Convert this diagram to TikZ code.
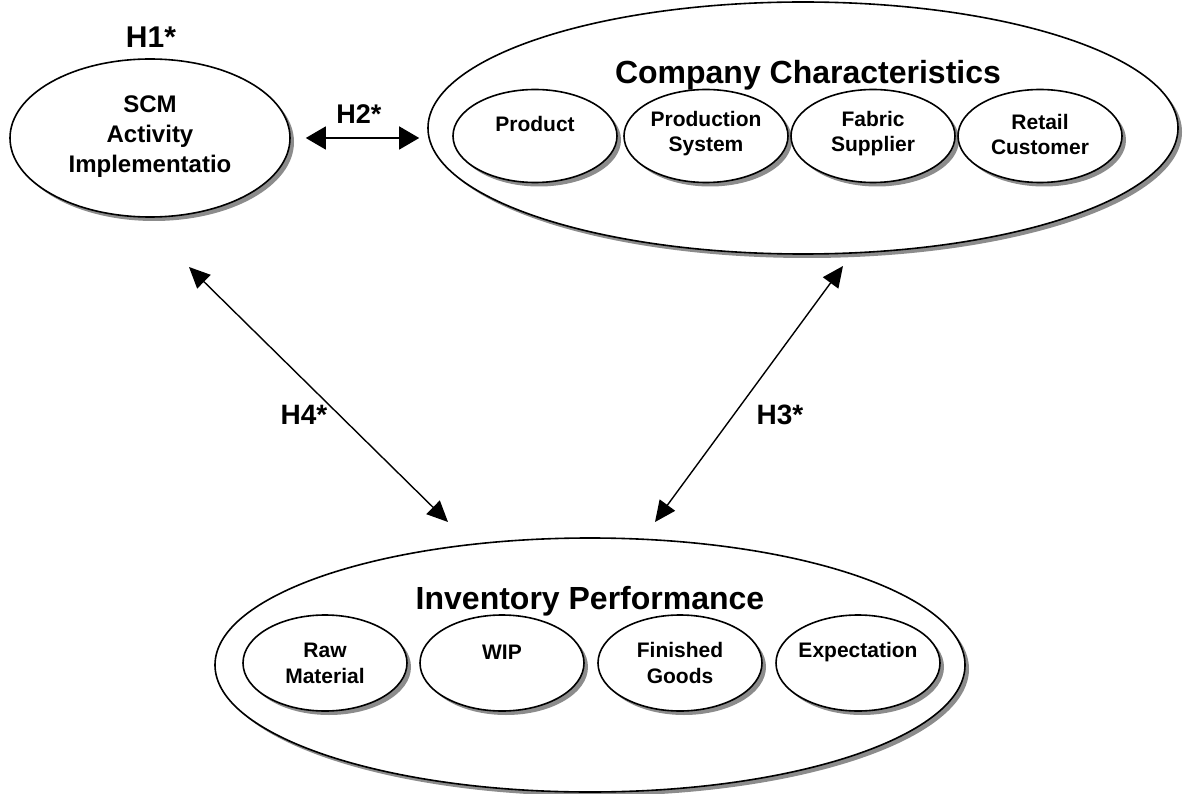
\documentclass[tikz,border=0pt]{standalone}
\usepackage{fontspec}
\setmainfont{Liberation Sans}
\usetikzlibrary{shapes.geometric,shadows,arrows.meta}
\begin{document}
\begin{tikzpicture}[x=1pt,y=-1pt,
  oval/.style={ellipse, draw, line width=1.6pt, fill=white, inner sep=0pt,
    drop shadow={shadow xshift=4pt, shadow yshift=-4pt, fill=black!45, opacity=1}},
  txt/.style n args={2}{font=\bfseries\fontsize{#1}{#2}\selectfont, align=center, inner sep=0pt},
  lnk/.style={line width=1.4pt, {Triangle[length=21pt,width=19pt]}-{Triangle[length=21pt,width=19pt]}}
]
\useasboundingbox (0,0) rectangle (1191,794);

% SCM
\node[txt={30}{34}] (h1) at (151,37) {H1*};
\node[oval, minimum width=280, minimum height=158] (scm) at (150,138) {};
\node[txt={24}{30}] (scmt) at (150,137) {SCM\\Activity\\Implementatio};

% Company
\node[oval, minimum width=750, minimum height=252] (comp) at (803,128) {};
\node[txt={32}{36}] (compt) at (808,75) {Company Characteristics};
\foreach \n/\x in {p1/535,p2/706,p3/873,p4/1040}{
  \node[oval, minimum width=164, minimum height=93] (\n) at (\x,136) {};
}
\node[txt={21}{25}] (p1t) at (535,124) {Product};
\node[txt={21}{25}] (p2t) at (706,134) {Production\\System};
\node[txt={21}{25}] (p3t) at (873,134) {Fabric\\Supplier};
\node[txt={21}{25}] (p4t) at (1040,134) {Retail\\Customer};

% Inventory
\node[oval, minimum width=750, minimum height=254] (inv) at (590,665) {};
\node[txt={32}{36}] (invt) at (590,601) {Inventory Performance};
\foreach \n/\x in {q1/325,q2/502,q3/680,q4/858}{
  \node[oval, minimum width=164, minimum height=96] (\n) at (\x,663) {};
}
\node[txt={21}{26}] (q1t) at (325,663) {Raw\\Material};
\node[txt={21}{26}] (q2t) at (502,652) {WIP};
\node[txt={21}{26}] (q3t) at (680,663) {Finished\\Goods};
\node[txt={21}{26}] (q4t) at (858,652) {Expectation};

% connectors
\draw[line width=1.4pt, {Triangle[length=20pt,width=23pt]}-{Triangle[length=20pt,width=23pt]}, shorten <=15pt, shorten >=8pt]
  (scm.east) -- (scm.east -| comp.west);
\node[txt={27}{30}] (h2) at (359,114) {H2*};

\coordinate (h4a) at (189,267);
\coordinate (h4b) at (448,522);
\coordinate (h3a) at (843,266);
\coordinate (h3b) at (655,522);
\draw[lnk] (h4a) -- (h4b);
\draw[lnk] (h3a) -- (h3b);
\node[txt={28}{30}] (h4) at (304,415) {H4*};
\node[txt={28}{30}] (h3) at (780,415) {H3*};
\end{tikzpicture}
\end{document}
